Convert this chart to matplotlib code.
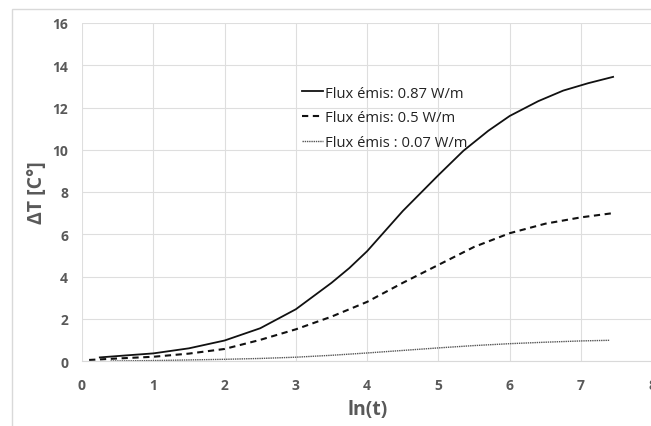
import numpy as np
import matplotlib
matplotlib.use('Agg')
import matplotlib.pyplot as plt
from matplotlib.patches import Rectangle

plt.rcParams['font.family'] = ['Open Sans', 'DejaVu Sans']

x_087 = [0.25, 0.6, 1.0, 1.5, 2.0, 2.5, 3.0, 3.5, 3.75, 4.0, 4.25, 4.5, 4.75, 5.0, 5.35,
         5.7, 6.0, 6.4, 6.75, 7.1, 7.45]
y_087 = [0.17, 0.26, 0.36, 0.6, 0.97, 1.55, 2.45, 3.7, 4.4, 5.2, 6.15, 7.1, 7.95, 8.8, 9.95,
         10.9, 11.6, 12.3, 12.8, 13.15, 13.45]

x_05 = [0.1, 0.5, 1.0, 1.5, 2.0, 2.5, 3.0, 3.5, 4.0, 4.5, 5.0, 5.5, 6.0, 6.5, 7.0, 7.45]
y_05 = [0.05, 0.12, 0.2, 0.35, 0.57, 1.0, 1.5, 2.1, 2.8, 3.7, 4.55, 5.4, 6.05, 6.5, 6.8, 7.0]

x_007 = [0.4, 1.0, 1.5, 2.0, 2.5, 3.0, 3.5, 4.0, 4.5, 5.0, 5.5, 6.0, 6.5, 7.0, 7.4]
y_007 = [0.0, 0.02, 0.05, 0.08, 0.12, 0.18, 0.27, 0.38, 0.5, 0.62, 0.73, 0.82, 0.89, 0.95, 0.98]

labels = ['Flux émis: 0.87 W/m', 'Flux émis: 0.5 W/m', 'Flux émis : 0.07 W/m']

grey = '#595959'
fig = plt.figure(figsize=(6.51, 4.27), dpi=100)
ax = fig.add_axes([82/651, 1 - 362/427, 1 - 82/651 + 0.002, (362 - 24)/427])

# outer chart frame (cut on the right and bottom like the screenshot)
fig.patches.append(Rectangle((12/651, -0.1), 1.2, 1.1 - 10/427, transform=fig.transFigure,
                             fill=False, edgecolor='#d9d9d9', linewidth=1.0))

ax.plot(x_087, y_087, color='#111111', linewidth=1.3, label=labels[0])
ax.plot(x_05, y_05, color='#111111', linewidth=1.5, linestyle=(0, (3, 2.2)), label=labels[1])
ax.plot(x_007, y_007, color='#555555', linewidth=1.0, linestyle=(0, (1, 0.6)), label=labels[2])

ax.set_xlim(0, 8)
ax.set_ylim(0, 16)
ax.set_xticks(np.arange(0, 9, 1))
ax.set_yticks(np.arange(0, 17, 2))
ax.grid(True, color='#dedede', linewidth=0.8)
ax.set_axisbelow(True)
for s in ['top', 'right', 'left']:
    ax.spines[s].set_visible(False)
ax.spines['bottom'].set_color('#d9d9d9')
ax.tick_params(axis='x', length=0, pad=12, colors=grey, labelsize=10)
ax.tick_params(axis='y', length=0, pad=10, colors=grey, labelsize=10)
for t in ax.get_xticklabels() + ax.get_yticklabels():
    t.set_fontweight('bold')

ax.set_xlabel('ln(t)', fontsize=14, fontweight='bold', color=grey, labelpad=5)
ax.set_ylabel('ΔT [C°]', fontsize=14, fontweight='bold', color=grey, labelpad=4)

leg = ax.legend(loc='upper left', bbox_to_anchor=(0.386, 0.815), frameon=False,
                fontsize=10.6, handlelength=1.45, handletextpad=0.1, labelspacing=0.65,
                borderaxespad=0, borderpad=0)
for t in leg.get_texts():
    t.set_color('#222222')

fig.savefig('out.png', dpi=100)
